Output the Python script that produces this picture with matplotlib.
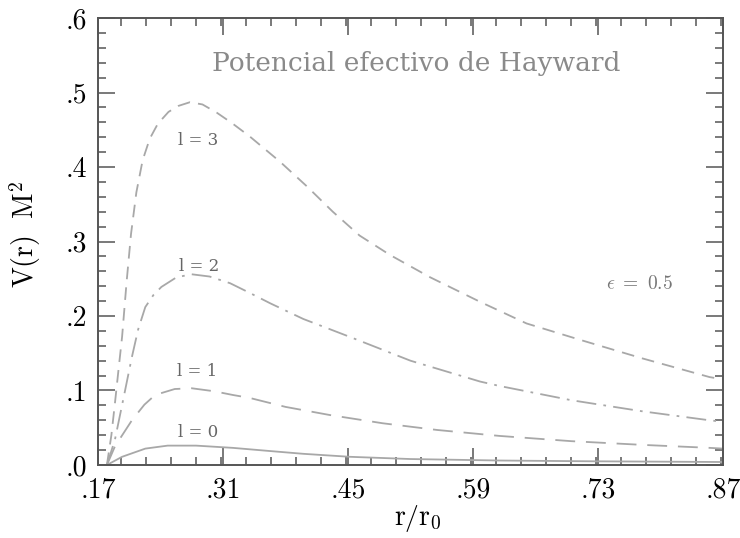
import matplotlib
matplotlib.use("Agg")
import matplotlib.pyplot as plt
from matplotlib.ticker import MultipleLocator

plt.rcParams["mathtext.fontset"] = "cm"

# values
r_l0 = [0.180, 0.197, 0.223, 0.248, 0.280, 0.321, 0.360, 0.400, 0.452, 0.520, 0.620, 0.720, 0.870]
v_l0 = [0.000, 0.011, 0.022, 0.026, 0.026, 0.023, 0.019, 0.015, 0.011, 0.008, 0.006, 0.005, 0.004]

r_l1 = [0.180, 0.189, 0.208, 0.222, 0.234, 0.256, 0.275, 0.300, 0.321, 0.340, 0.380, 0.430,
        0.489, 0.550, 0.620, 0.700, 0.780, 0.855, 0.870]
v_l1 = [0.000, 0.025, 0.060, 0.081, 0.094, 0.102, 0.103, 0.099, 0.094, 0.090, 0.078, 0.067,
        0.056, 0.047, 0.039, 0.032, 0.027, 0.023, 0.022]

r_l2 = [0.180, 0.189, 0.200, 0.208, 0.215, 0.223, 0.232, 0.241, 0.258, 0.275, 0.295, 0.318,
        0.340, 0.363, 0.400, 0.452, 0.520, 0.598, 0.620, 0.700, 0.780, 0.855, 0.870]
v_l2 = [0.000, 0.034, 0.098, 0.145, 0.182, 0.212, 0.228, 0.239, 0.252, 0.256, 0.253, 0.244,
        0.231, 0.217, 0.196, 0.172, 0.140, 0.112, 0.106, 0.087, 0.072, 0.060, 0.058]

r_l3 = [0.180, 0.185, 0.189, 0.193, 0.197, 0.202, 0.207, 0.213, 0.220, 0.228, 0.237, 0.249,
        0.260, 0.273, 0.287, 0.303, 0.320, 0.340, 0.374, 0.404, 0.433, 0.463, 0.497, 0.542,
        0.598, 0.650, 0.710, 0.780, 0.855, 0.870]
v_l3 = [0.000, 0.040, 0.083, 0.128, 0.172, 0.245, 0.310, 0.366, 0.409, 0.438, 0.458, 0.474,
        0.482, 0.487, 0.484, 0.473, 0.459, 0.441, 0.407, 0.374, 0.340, 0.308, 0.282, 0.252,
        0.219, 0.190, 0.168, 0.143, 0.118, 0.115]

x_ticks = [0.17, 0.31, 0.45, 0.59, 0.73, 0.87]
x_labels = [".17", ".31", ".45", ".59", ".73", ".87"]
y_ticks = [0.0, 0.1, 0.2, 0.3, 0.4, 0.5, 0.6]
y_labels = [".0", ".1", ".2", ".3", ".4", ".5", ".6"]

curve_labels = ["l = 0", "l = 1", "l = 2", "l = 3"]
label_pos = [(0.282, 0.044), (0.281, 0.125), (0.283, 0.266), (0.282, 0.436)]

fig = plt.figure(figsize=(7.4, 5.38), dpi=100)
ax = fig.add_axes([0.1324, 0.1357, 0.8446, 0.8308])

line_color = "#a8a8a8"
ax.plot(r_l0, v_l0, color=line_color, lw=1.3, linestyle="-")
ax.plot(r_l1, v_l1, color=line_color, lw=1.3, linestyle=(0, (11, 6)))
ax.plot(r_l2, v_l2, color=line_color, lw=1.3, linestyle=(0, (11, 4, 1.5, 4)))
ax.plot(r_l3, v_l3, color=line_color, lw=1.3, linestyle=(0, (7, 4.5)))

ax.set_xlim(0.17, 0.87)
ax.set_ylim(0.0, 0.6)

ax.set_xticks(x_ticks)
ax.set_xticklabels(x_labels, fontfamily="cmr10", fontsize=20)
ax.set_yticks(y_ticks)
ax.set_yticklabels(y_labels, fontfamily="cmr10", fontsize=20)
ax.xaxis.set_minor_locator(MultipleLocator(0.028))
ax.yaxis.set_minor_locator(MultipleLocator(0.02))

ax.tick_params(which="both", direction="in", top=True, right=True, color="#555555", width=1.1)
ax.tick_params(which="major", length=12)
ax.tick_params(which="minor", length=6)
ax.tick_params(axis="x", which="major", pad=9)
ax.tick_params(axis="y", which="major", pad=8)
for s in ax.spines.values():
    s.set_color("#555555")
    s.set_linewidth(1.4)

ax.set_xlabel(r"$\mathrm{r/r_0}$", fontsize=20)
ax.xaxis.set_label_coords(0.512, -0.086)
ax.set_ylabel(r"$\mathrm{V(r)\ \ M^2}$", fontsize=20)
ax.yaxis.set_label_coords(-0.088, 0.515)

ax.text(0.509, 0.899, "Potencial efectivo de Hayward", transform=ax.transAxes,
        ha="center", va="center", fontsize=19, color="#8a8a8a", fontfamily="DejaVu Serif")

for txt, (x, y) in zip(curve_labels, label_pos):
    ax.text(x, y, txt, ha="center", va="center", fontsize=12, color="#666666",
            fontfamily="DejaVu Serif")

ax.text(0.777, 0.244, r"$\epsilon\ =\ 0.5$", ha="center", va="center",
        fontsize=14, color="#777777")

fig.savefig("out.png", dpi=100)
